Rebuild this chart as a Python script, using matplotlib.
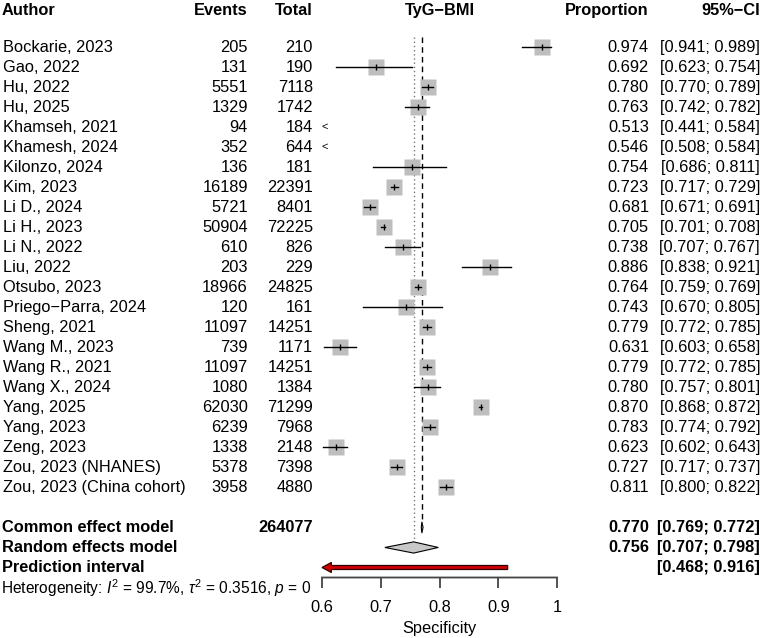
import matplotlib
matplotlib.use('Agg')
import matplotlib.pyplot as plt
from matplotlib.patches import Polygon
import matplotlib.transforms as mtransforms

# ---------------- data ----------------
authors = ["Bockarie, 2023", "Gao, 2022", "Hu, 2022", "Hu, 2025", "Khamseh, 2021",
           "Khamesh, 2024", "Kilonzo, 2024", "Kim, 2023", "Li D., 2024", "Li H., 2023",
           "Li N., 2022", "Liu, 2022", "Otsubo, 2023", "Priego\u2212Parra, 2024",
           "Sheng, 2021", "Wang M., 2023", "Wang R., 2021", "Wang X., 2024",
           "Yang, 2025", "Yang, 2023", "Zeng, 2023", "Zou, 2023 (NHANES)",
           "Zou, 2023 (China cohort)"]
events = [205, 131, 5551, 1329, 94, 352, 136, 16189, 5721, 50904, 610, 203, 18966,
          120, 11097, 739, 11097, 1080, 62030, 6239, 1338, 5378, 3958]
totals = [210, 190, 7118, 1742, 184, 644, 181, 22391, 8401, 72225, 826, 229, 24825,
          161, 14251, 1171, 14251, 1384, 71299, 7968, 2148, 7398, 4880]
prop = [0.974, 0.692, 0.780, 0.763, 0.513, 0.546, 0.754, 0.723, 0.681, 0.705, 0.738,
        0.886, 0.764, 0.743, 0.779, 0.631, 0.779, 0.780, 0.870, 0.783, 0.623, 0.727, 0.811]
ci_low = [0.941, 0.623, 0.770, 0.742, 0.441, 0.508, 0.686, 0.717, 0.671, 0.701, 0.707,
          0.838, 0.759, 0.670, 0.772, 0.603, 0.772, 0.757, 0.868, 0.774, 0.602, 0.717, 0.800]
ci_high = [0.989, 0.754, 0.789, 0.782, 0.584, 0.584, 0.811, 0.729, 0.691, 0.708, 0.767,
           0.921, 0.769, 0.805, 0.785, 0.658, 0.785, 0.801, 0.872, 0.792, 0.643, 0.737, 0.822]

common_est, common_lo, common_hi = 0.770, 0.769, 0.772
random_est, random_lo, random_hi = 0.756, 0.707, 0.798
pred_lo, pred_hi = 0.468, 0.916
total_n = 264077
het_text = r'Heterogeneity: $I^2$ = 99.7%, $\tau^2$ = 0.3516, $p$ = 0'
x_limits = (0.6, 1.0)
x_ticks = [0.6, 0.7, 0.8, 0.9, 1.0]
x_ticklabels = ['0.6', '0.7', '0.8', '0.9', '1']
x_label = 'Specificity'
plot_title = 'TyG\u2212BMI'

# ---------------- style ----------------
plt.rcParams['font.family'] = ['Liberation Sans', 'DejaVu Sans']
plt.rcParams['mathtext.fontset'] = 'custom'
plt.rcParams['mathtext.rm'] = 'Liberation Sans'
plt.rcParams['mathtext.it'] = 'Liberation Sans:italic'
FS = 11.8

W, H = 763, 638
fig = plt.figure(figsize=(W / 100, H / 100), dpi=100)
ax_h = 577.5
ax = fig.add_axes([322 / W, 1 - ax_h / H, (557 - 322) / W, ax_h / H])
ax.set_xlim(*x_limits)
ax.set_ylim(26.5, -2.35)

n = len(authors)
rows = list(range(n))
r_header = -1.85
r_common, r_random, r_pred, r_het = n + 1, n + 2, n + 3, n + 4.05

trans = mtransforms.blended_transform_factory(fig.transFigure, ax.transData)

def col_text(xpix, r, s, ha, bold=False, fs=FS):
    ax.text(xpix / W, r, s, transform=trans, ha=ha, va='center', fontsize=fs,
            fontweight='bold' if bold else 'normal', clip_on=False)

# headers
col_text(2, r_header, 'Author', 'left', True)
col_text(248, r_header, 'Events', 'right', True)
col_text(313, r_header, 'Total', 'right', True)
ax.text(sum(x_limits) / 2, r_header, plot_title, ha='center', va='center',
        fontsize=FS, fontweight='bold', clip_on=False)
col_text(649, r_header, 'Proportion', 'right', True)
col_text(760, r_header, '95%\u2212CI', 'right', True)

# study rows
for r, a, e, t, p, lo, hi in zip(rows, authors, events, totals, prop, ci_low, ci_high):
    col_text(3, r, a, 'left')
    col_text(248, r, str(e), 'right')
    col_text(313, r, str(t), 'right')
    col_text(649, r, f'{p:.3f}', 'right')
    col_text(760, r, f'[{lo:.3f}; {hi:.3f}]', 'right')
    if hi < x_limits[0]:
        ax.text(x_limits[0], r, '<', ha='left', va='center', fontsize=8, clip_on=False)
    else:
        ax.plot([p], [r], 's', ms=11.5, color='#BEBEBE', mec='none', zorder=2)
        ax.plot([lo, hi], [r, r], color='black', lw=1, zorder=3)
        ax.plot([p], [r], '|', ms=5, mew=1, color='black', zorder=4)

# reference lines
ax.plot([random_est, random_est], [-0.5, r_random - 0.3], ls=(0, (1, 2)), color='#777777', lw=1, zorder=1)
ax.plot([common_est, common_est], [-0.5, r_common - 0.3], ls=(0, (4, 3)), color='black', lw=1, zorder=1)

# diamonds
dh = 0.28
ax.add_patch(Polygon([(common_lo, r_common), (common_est, r_common - dh),
                      (common_hi, r_common), (common_est, r_common + dh)],
                     closed=True, facecolor='#C8C8C8', edgecolor='black', lw=0.8, zorder=5))
ax.add_patch(Polygon([(random_lo, r_random), (random_est, r_random - dh),
                      (random_hi, r_random), (random_est, r_random + dh)],
                     closed=True, facecolor='#C8C8C8', edgecolor='black', lw=0.8, zorder=5))

# prediction interval (arrow because lower bound beyond axis)
x0 = max(pred_lo, x_limits[0])
hl, hh, sh = 0.016, 0.25, 0.1
ax.add_patch(Polygon([(x0, r_pred), (x0 + hl, r_pred - hh), (x0 + hl, r_pred - sh),
                      (pred_hi, r_pred - sh), (pred_hi, r_pred + sh),
                      (x0 + hl, r_pred + sh), (x0 + hl, r_pred + hh)],
                     closed=True, facecolor='#D00000', edgecolor='#300000', lw=0.9,
                     zorder=5, clip_on=False))

# summary text
col_text(2, r_common, 'Common effect model', 'left', True)
col_text(313, r_common, str(total_n), 'right', True)
col_text(649, r_common, f'{common_est:.3f}', 'right', True)
col_text(760, r_common, f'[{common_lo:.3f}; {common_hi:.3f}]', 'right', True)
col_text(2, r_random, 'Random effects model', 'left', True)
col_text(649, r_random, f'{random_est:.3f}', 'right', True)
col_text(760, r_random, f'[{random_lo:.3f}; {random_hi:.3f}]', 'right', True)
col_text(2, r_pred, 'Prediction interval', 'left', True)
col_text(760, r_pred, f'[{pred_lo:.3f}; {pred_hi:.3f}]', 'right', True)
col_text(1, r_het, het_text, 'left', fs=11.2)

# axis
for s in ['top', 'left', 'right']:
    ax.spines[s].set_visible(False)
ax.spines['bottom'].set_color('#444444')
ax.spines['bottom'].set_linewidth(1.3)
ax.spines['bottom'].set_snap(False)
ax.set_yticks([])
ax.set_xticks(x_ticks)
ax.set_xticklabels(x_ticklabels)
ax.tick_params(axis='x', direction='out', length=7.5, width=1.3, color='#444444',
               labelsize=FS, pad=9)
ax.set_xlabel(x_label, fontsize=FS, labelpad=4)

fig.savefig('out.png', dpi=100, facecolor='white')
